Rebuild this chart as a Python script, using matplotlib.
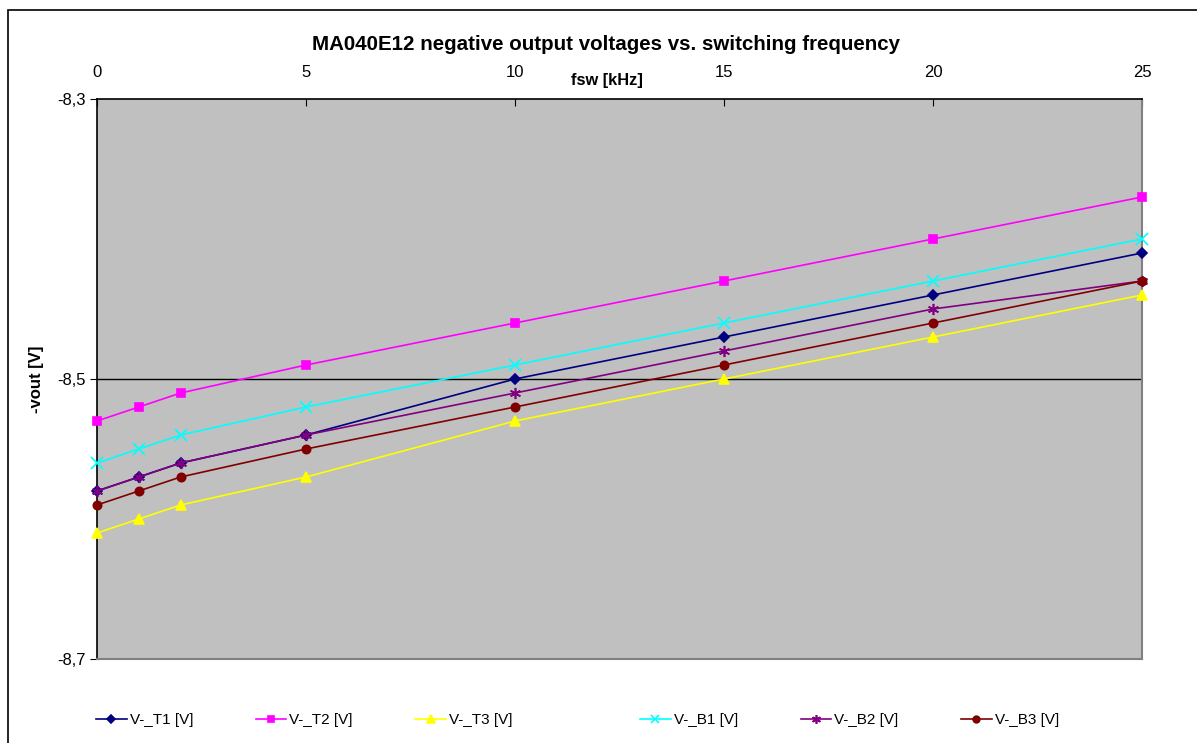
import matplotlib
matplotlib.use("Agg")
from matplotlib import pyplot as plt
from matplotlib.patches import Rectangle
from matplotlib.ticker import FuncFormatter

plt.rcParams['font.family'] = ['Liberation Sans', 'DejaVu Sans']

# data
fsw = [0, 1, 2, 5, 10, 15, 20, 25]
v_t1 = [-8.58, -8.57, -8.56, -8.54, -8.50, -8.47, -8.44, -8.41]
v_t2 = [-8.53, -8.52, -8.51, -8.49, -8.46, -8.43, -8.40, -8.37]
v_t3 = [-8.61, -8.60, -8.59, -8.57, -8.53, -8.50, -8.47, -8.44]
v_b1 = [-8.56, -8.55, -8.54, -8.52, -8.49, -8.46, -8.43, -8.40]
v_b2 = [-8.58, -8.57, -8.56, -8.54, -8.51, -8.48, -8.45, -8.43]
v_b3 = [-8.59, -8.58, -8.57, -8.55, -8.52, -8.49, -8.46, -8.43]
names = ['V-_T1 [V]', 'V-_T2 [V]', 'V-_T3 [V]', 'V-_B1 [V]', 'V-_B2 [V]', 'V-_B3 [V]']
x_ticks = [0, 5, 10, 15, 20, 25]
y_ticks = [-8.3, -8.5, -8.7]

series = [v_t1, v_t2, v_t3, v_b1, v_b2, v_b3]
colors = ['#000080', '#FF00FF', '#FFFF00', '#00FFFF', '#800080', '#800000']
markers = ['D', 's', '^', 'x', (6, 2, 0), 'o']
msizes = [5, 6, 7, 8, 8, 6]

W, H = 1197, 743
fig = plt.figure(figsize=(W / 100, H / 100), dpi=100)
fig.patches.append(Rectangle((8 / W, -0.05), 1.2, 1 - 10 / H + 0.05, transform=fig.transFigure,
                             fill=False, edgecolor='black', linewidth=1.2))

ax = fig.add_axes([97 / W, 1 - 659 / H, (1142 - 97) / W, (659 - 99) / H])
ax.set_facecolor('#C0C0C0')

lines = []
for vals, c, m, ms, name in zip(series, colors, markers, msizes, names):
    ln, = ax.plot(fsw, vals, color=c, marker=m, markersize=ms, linewidth=1.2,
                  markeredgecolor=c, markerfacecolor=c, markeredgewidth=1.2, label=name,
                  clip_on=False, zorder=3)
    lines.append(ln)

ax.axhline(-8.5, color='black', linewidth=1, zorder=1)

ax.set_xlim(0, 25)
ax.set_ylim(-8.7, -8.3)
ax.xaxis.tick_top()
ax.xaxis.set_label_position('top')
ax.set_xticks(x_ticks)
ax.set_yticks(y_ticks)
ax.yaxis.set_major_formatter(FuncFormatter(lambda v, p: ('%.1f' % v).replace('.', ',')))
ax.tick_params(axis='x', direction='in', length=5, labelsize=12, pad=14)
ax.tick_params(axis='y', direction='out', length=5, labelsize=12, pad=3)

for s in ['top', 'left']:
    ax.spines[s].set_color('black')
    ax.spines[s].set_linewidth(1.2)
for s in ['right', 'bottom']:
    ax.spines[s].set_color('#808080')
    ax.spines[s].set_linewidth(1.5)

ax.set_xlabel('fsw [kHz]', fontsize=11.8, fontweight='bold')
ax.xaxis.set_label_coords((607 - 97) / (1142 - 97), (659 - 80) / (659 - 99))
ax.xaxis.label.set_va('center')
ax.set_ylabel('-vout [V]', fontsize=12, fontweight='bold')
ax.yaxis.set_label_coords((37 - 97) / (1142 - 97), 0.5)
ax.yaxis.label.set_va('center')

fig.text(606 / W, 1 - 44 / H, 'MA040E12 negative output voltages vs. switching frequency',
         ha='center', va='center', fontsize=14.8, fontweight='bold')

leg_kw = dict(ncol=3, frameon=False, fontsize=11, handlelength=2.0, handletextpad=0.2,
              columnspacing=4.1, loc='center left', borderaxespad=0, borderpad=0,
              markerscale=0.8)
leg1 = fig.legend(lines[:3], names[:3], bbox_to_anchor=(96 / W, 1 - 720 / H), **leg_kw)
leg2 = fig.legend(lines[3:], names[3:], bbox_to_anchor=(640 / W, 1 - 720 / H), **leg_kw)

fig.savefig('out.png', dpi=100)
